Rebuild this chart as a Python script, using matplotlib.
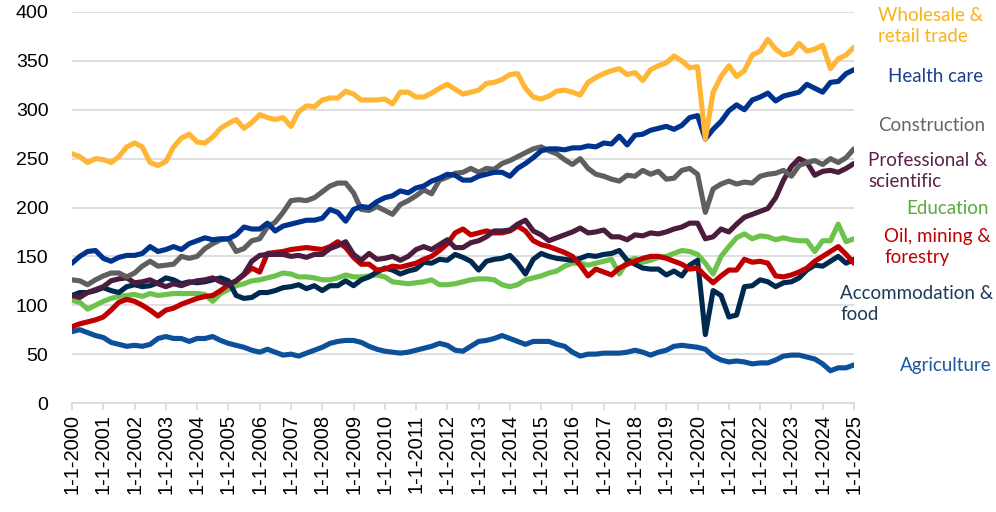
import numpy as np
import pandas as pd
from matplotlib import pyplot as plt

# quarterly index values, 2000-01-01 .. 2025-01-01
dates = pd.date_range('2000-01-01', '2025-01-01', freq='QS')

wholesale = [255, 252, 246, 250, 249, 246, 252, 262, 266, 262, 246, 243, 247, 262, 271, 275, 267, 266, 272, 281,
             286, 290, 281, 287, 295, 292, 290, 292, 283, 298, 304, 303, 310, 312, 312, 319, 316, 310, 310, 310,
             311, 306, 318, 318, 313, 313, 317, 322, 326, 321, 316, 318, 320, 327, 328, 331, 336, 337, 322, 313,
             311, 314, 319, 320, 318, 315, 328, 333, 337, 340, 342, 336, 338, 330, 341, 345, 348, 355, 350, 343,
             344, 270, 318, 334, 345, 334, 340, 356, 360, 372, 362, 356, 358, 368, 360, 362, 366, 342, 352, 356,
             364]
health = [143, 150, 155, 156, 148, 145, 149, 151, 151, 153, 160, 155, 157, 160, 157, 163, 166, 169, 167, 168,
          168, 172, 180, 178, 178, 184, 176, 181, 183, 185, 187, 187, 189, 198, 195, 186, 198, 201, 200, 206,
          210, 212, 217, 215, 220, 222, 227, 230, 234, 233, 228, 228, 232, 234, 236, 236, 232, 240, 245, 251,
          258, 260, 260, 259, 261, 261, 263, 262, 266, 265, 273, 264, 274, 275, 279, 281, 283, 280, 284, 292,
          294, 270, 280, 288, 299, 305, 300, 310, 313, 317, 309, 314, 316, 318, 326, 322, 318, 328, 329, 337,
          341]
construction = [126, 125, 121, 126, 130, 133, 133, 129, 133, 140, 145, 140, 141, 142, 150, 148, 150, 158, 163, 167,
                168, 155, 158, 166, 168, 180, 185, 195, 207, 208, 207, 210, 216, 222, 225, 225, 215, 198, 197, 201,
                197, 193, 203, 207, 212, 218, 214, 228, 231, 235, 236, 240, 236, 240, 239, 245, 248, 252, 256, 260,
                262, 258, 255, 249, 244, 250, 240, 234, 232, 229, 227, 233, 232, 238, 234, 237, 229, 230, 238, 240,
                234, 195, 219, 224, 227, 224, 226, 225, 232, 234, 235, 238, 232, 243, 246, 248, 244, 250, 246, 251,
                260]
professional = [110, 108, 113, 116, 119, 125, 127, 128, 123, 124, 126, 122, 119, 122, 120, 123, 125, 126, 128, 124,
                121, 125, 132, 145, 151, 152, 152, 152, 150, 151, 149, 152, 152, 158, 161, 165, 152, 146, 153, 147,
                148, 150, 146, 150, 157, 160, 157, 162, 167, 159, 159, 164, 166, 170, 176, 176, 177, 183, 187, 176,
                172, 166, 169, 172, 175, 179, 174, 175, 177, 170, 170, 167, 172, 171, 174, 173, 175, 178, 180, 184,
                184, 168, 170, 178, 175, 183, 190, 193, 196, 199, 210, 228, 242, 250, 246, 233, 237, 238, 236, 240,
                245]
education = [105, 103, 96, 100, 104, 107, 109, 110, 111, 109, 112, 110, 111, 112, 112, 112, 112, 111, 104, 112,
             116, 120, 122, 125, 126, 128, 130, 133, 132, 129, 129, 128, 126, 126, 128, 131, 129, 129, 130, 131,
             129, 124, 123, 122, 123, 124, 126, 121, 121, 122, 124, 126, 127, 127, 126, 121, 119, 121, 126, 128,
             130, 133, 135, 140, 143, 143, 141, 143, 145, 147, 132, 145, 148, 144, 146, 149, 150, 153, 156, 155,
             152, 143, 132, 150, 160, 169, 173, 168, 171, 170, 167, 169, 167, 166, 166, 155, 166, 166, 183, 165,
             168]
oil = [78, 81, 83, 85, 88, 95, 103, 106, 104, 100, 95, 89, 95, 97, 101, 104, 107, 109, 110, 115,
       121, 125, 131, 138, 134, 153, 154, 155, 157, 158, 159, 158, 157, 160, 165, 159, 149, 142, 142, 136,
       137, 140, 139, 141, 143, 147, 150, 156, 163, 174, 178, 172, 174, 176, 174, 174, 176, 181, 176, 166,
       162, 160, 157, 154, 150, 141, 130, 137, 134, 131, 138, 142, 145, 148, 150, 150, 148, 145, 142, 137,
       138, 130, 123, 130, 136, 136, 147, 144, 145, 143, 130, 129, 131, 134, 138, 145, 150, 155, 160, 152,
       143]
accommodation = [110, 113, 113, 115, 118, 115, 113, 119, 121, 119, 120, 123, 128, 126, 122, 124, 123, 124, 126, 128,
                 125, 110, 107, 108, 113, 113, 115, 118, 119, 121, 117, 120, 115, 120, 120, 125, 120, 126, 129, 134,
                 138, 136, 132, 135, 137, 144, 143, 147, 146, 152, 149, 145, 136, 145, 147, 148, 151, 143, 132, 147,
                 153, 150, 148, 147, 146, 148, 151, 150, 152, 153, 156, 146, 142, 138, 137, 137, 131, 135, 130, 141,
                 146, 70, 115, 110, 88, 90, 119, 120, 126, 124, 119, 123, 124, 128, 136, 141, 140, 145, 150, 143,
                 147]
agriculture = [73, 75, 72, 69, 67, 62, 60, 58, 59, 58, 60, 66, 68, 66, 66, 63, 66, 66, 68, 64,
               61, 59, 57, 54, 52, 55, 52, 49, 50, 48, 51, 54, 57, 61, 63, 64, 64, 62, 58, 55,
               53, 52, 51, 52, 54, 56, 58, 61, 59, 54, 53, 58, 63, 64, 66, 69, 66, 63, 60, 63,
               63, 63, 60, 58, 52, 48, 50, 50, 51, 51, 51, 52, 54, 52, 49, 52, 54, 58, 59, 58,
               57, 55, 48, 44, 42, 43, 42, 40, 41, 41, 44, 48, 49, 49, 47, 45, 40, 33, 36, 36,
               39]

series = [
    (agriculture, '#0D509A'),
    (education, '#6CC24A'),
    (accommodation, '#00294F'),
    (oil, '#C00000'),
    (professional, '#4B1C3D'),
    (construction, '#5F5F5F'),
    (health, '#00338D'),
    (wholesale, '#FFB634'),
]

# labels at the right: text, colour, x px, y px (top of text)
labels = [
    ('Wholesale &\nretail trade', '#F9B217', 878, 7),
    ('Health care', '#1B3F8F', 888, 68),
    ('Construction', '#666666', 878, 117),
    ('Professional &\nscientific', '#5B2148', 868, 152),
    ('Education', '#5BAA3C', 906, 200),
    ('Oil, mining &\nforestry', '#C00000', 884, 228),
    ('Accommodation &\nfood', '#1F3B5A', 840, 285),
    ('Agriculture', '#1B58A0', 900, 357),
]

W, H = 996, 512
fig = plt.figure(figsize=(W / 100, H / 100), dpi=100)
ax = fig.add_axes([72 / W, 1 - 403 / H, (854 - 72) / W, (403 - 12) / H])

for vals, col in series:
    ax.plot(dates, vals, color=col, lw=3.7, solid_joinstyle='round', solid_capstyle='round')

ax.set_ylim(0, 400)
ax.set_xlim(pd.Timestamp('2000-01-01'), pd.Timestamp('2025-01-01'))
ax.set_yticks(np.arange(0, 401, 50))
years = pd.date_range('2000-01-01', '2025-01-01', freq='YS')
ax.set_xticks(years)
ax.set_xticklabels(['1-1-' + str(d.year) for d in years], rotation=90,
                   fontsize=14.5, family='Liberation Sans', color='#000000')
for t in ax.get_yticklabels():
    t.set_fontsize(14)
    t.set_family('Liberation Sans')
    t.set_color('#000000')

ax.grid(axis='y', color='#D9D9D9', lw=1.2)
ax.set_axisbelow(True)
for s in ['top', 'right', 'left']:
    ax.spines[s].set_visible(False)
ax.spines['bottom'].set_color('#D9D9D9')
ax.spines['bottom'].set_linewidth(1.2)
ax.tick_params(axis='y', length=0, pad=17)
ax.tick_params(axis='x', length=5, color='#D9D9D9', width=1.2, pad=3)

for txt, col, px, py in labels:
    fig.text(px / W, 1 - py / H, txt, color=col, fontsize=13.5, family='Lato',
             ha='left', va='top', linespacing=1.3)

plt.savefig('out.png', dpi=100)
